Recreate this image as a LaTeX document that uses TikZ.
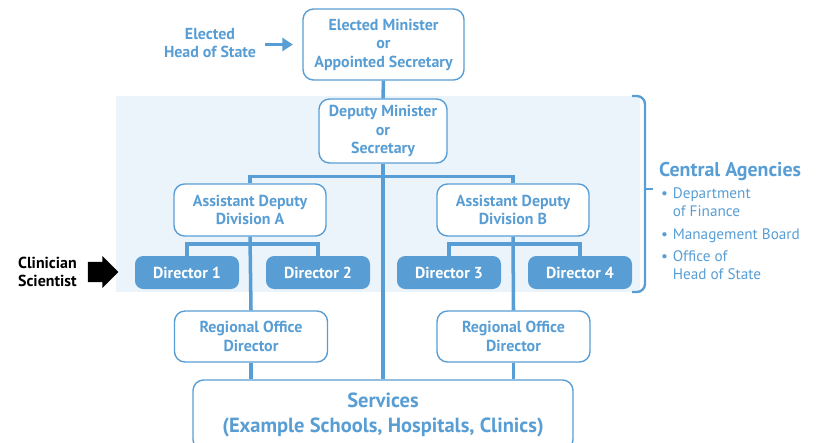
\documentclass[tikz,border=0pt]{standalone}
\usepackage{fontspec}
\setmainfont{PT Sans}
\usepackage{tikz}
\usetikzlibrary{arrows.meta,shapes,positioning}
\definecolor{orgblue}{RGB}{88,158,212}
\definecolor{orgshade}{RGB}{236,244,251}
\newcommand{\boxfont}{\fontsize{13.6}{15.8}\selectfont\bfseries}
\newcommand{\bigfont}{\fontsize{17.5}{21.5}\selectfont\bfseries}
\tikzstyle{post} = [rectangle, rounded corners=9pt, draw=orgblue, line width=1.2pt, fill=white, text=orgblue, align=center, font=\boxfont, inner sep=0pt]
\tikzstyle{director} = [rectangle, rounded corners=7pt, fill=orgblue, text=white, font=\boxfont, minimum width=3.12cm, minimum height=0.99cm, inner sep=0pt]
\tikzstyle{link} = [line width=3pt, color=orgblue]
\tikzstyle{arrow} = [line width=3pt, color=orgblue, -{Triangle[length=9pt,width=11pt]}]

\begin{document}
\begin{tikzpicture}[x=0.03cm, y=-0.03cm]
    \clip (0,0) rectangle (818,442);

    % Central agencies band
    \node[rectangle, fill=orgshade, minimum width=15.72cm, minimum height=5.88cm, inner sep=0pt] (band) at (378,194) {};
    \draw[orgblue, line width=2pt, rounded corners=7pt] (632,96) -| (645,189) |- (632,292);
    \draw[orgblue, line width=2pt] (645,189) -- (653,189);

    % Top of the hierarchy
    \node[post, minimum width=4.83cm, minimum height=2.13cm] (minister) at (383.5,44.5) {Elected Minister\\or\\Appointed Secretary};
    \node[font=\boxfont, text=orgblue, align=center] (hos) at (210,43) {Elected\\Head of State};
    \node[post, minimum width=3.84cm, minimum height=1.92cm] (deputy) at (383,131) {Deputy Minister\\or\\Secretary};

    % Divisions
    \node[post, minimum width=4.56cm, minimum height=1.56cm] (asstA) at (250,210) {Assistant Deputy\\Division A};
    \node[post, minimum width=4.56cm, minimum height=1.56cm] (asstB) at (513,210) {Assistant Deputy\\Division B};

    % Directors
    \node[director] (dir1) at (187,272.5) {Director 1};
    \node[director] (dir2) at (318,272.5) {Director 2};
    \node[director] (dir3) at (449,272.5) {Director 3};
    \node[director] (dir4) at (580,272.5) {Director 4};

    % Regional offices
    \node[post, minimum width=4.59cm, minimum height=1.53cm] (regA) at (251,336.5) {Regional Office\\Director};
    \node[post, minimum width=4.59cm, minimum height=1.53cm] (regB) at (513.5,336.5) {Regional Office\\Director};

    % Services
    \node[post, font=\bigfont, minimum width=11.4cm, minimum height=2.1cm] (services) at (383,415) {Services\\(Example Schools, Hospitals, Clinics)};

    % Lines
    \draw[arrow, shorten <=4pt, shorten >=8pt] (hos.east |- minister.west) -- (minister.west);
    \draw[link] (minister.south) -- (deputy.north);
    \draw[link] (deputy.south) -- (services.north);
    \draw[link] (asstA.north) -- ++(0,-7) -| (asstB.north);
    \draw[link] (dir1.north) -- ++(0,-12) -| (dir2.north);
    \draw[link] (dir3.north) -- ++(0,-12) -| (dir4.north);
    \draw[link] (asstA.south) -- (regA.north);
    \draw[link] (asstB.south) -- (regB.north);
    \draw[link] (regA.south) -- (regA.south |- services.north);
    \draw[link] (regB.south) -- (regB.south |- services.north);

    % Clinician scientist
    \node[font=\boxfont, align=left, anchor=west] (clin) at (14,272) {Clinician\\Scientist};
    \node[single arrow, fill=black, inner sep=8.5pt, single arrow head extend=5pt, minimum height=0.9cm] (clinarrow) at (98,272) {};

    % Central agencies list
    \node[font=\fontsize{17}{20}\selectfont\bfseries, text=orgblue, anchor=west] (agencies) at (655,171) {Central Agencies};
    \node[text=orgblue, anchor=north west, font=\fontsize{13}{15.3}\selectfont, inner sep=0pt] (agencylist) at (661,186) {%
      \begin{tabular}{@{}l@{\hspace{4pt}}l@{}}
        \textbullet & Department\\
                    & of Finance\\[4pt]
        \textbullet & Management Board\\[4pt]
        \textbullet & Office of\\
                    & Head of State
      \end{tabular}};
\end{tikzpicture}
\end{document}
